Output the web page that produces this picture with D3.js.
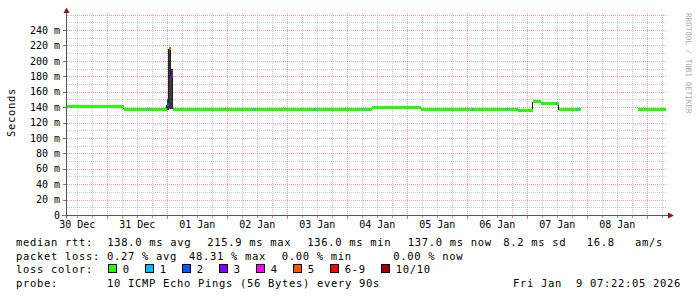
<!DOCTYPE html>
<html>
<head>
<meta charset="utf-8">
<script src="https://cdn.jsdelivr.net/npm/d3@7"></script>
<style>
  body { margin: 0; background: #fff; }
  text { font-family: "DejaVu Sans Mono", monospace; }
</style>
</head>
<body>
<script>
// graph window (10 days)
var startTime = "2025-12-30T07:52Z",
    endTime = "2026-01-09T07:52Z";

// median rtt (ms) step samples, null = no data
var sampleTimes = [
  "2025-12-30T07:52Z", "2025-12-31T06:28Z", "2025-12-31T16:04Z", "2025-12-31T16:28Z",
  "2025-12-31T23:40Z", "2026-01-01T00:28Z", "2026-01-01T01:16Z", "2026-01-01T02:04Z",
  "2026-01-02T10:28Z", "2026-01-02T10:52Z", "2026-01-03T10:28Z", "2026-01-03T10:52Z",
  "2026-01-04T06:28Z", "2026-01-04T06:52Z", "2026-01-04T09:52Z", "2026-01-05T05:16Z",
  "2026-01-06T01:40Z", "2026-01-06T02:04Z", "2026-01-06T15:40Z", "2026-01-06T16:04Z",
  "2026-01-06T20:04Z", "2026-01-06T20:28Z", "2026-01-07T02:16Z", "2026-01-07T05:28Z",
  "2026-01-07T11:16Z", "2026-01-07T11:52Z", "2026-01-07T12:40Z", "2026-01-07T19:40Z",
  "2026-01-07T20:16Z", "2026-01-07T21:28Z", "2026-01-08T20:16Z", "2026-01-09T07:28Z"
];
var medianMs = [
  141, 137, 137, 137,
  143, 216, 180, 137,
  137, 137, 137, 137,
  136.5, 136.5, 139, 137,
  137, 137, 136.5, 136.5,
  136, 136, 147, 145,
  145, 145, 136.5, 137.5,
  136.5, null, 137, null
];
var lossCount = [
  0, 0, 1, 0,
  2, 5, 3, 0,
  1, 0, 1, 0,
  1, 0, 0, 0,
  1, 0, 1, 0,
  1, 0, 0, 0,
  1, 0, 0, 1,
  0, 0, 0, 0
];
// smoke (min / max of pings), only visible around the spike
var smokeLo = [null, null, null, null, 136, 137, 137, null];
var smokeHi = [null, null, null, null, 150, 216, 190, null];

var yTickValues = [0, 20, 40, 60, 80, 100, 120, 140, 160, 180, 200, 220, 240];
var dayLabels = ["30 Dec", "31 Dec", "01 Jan", "02 Jan", "03 Jan", "04 Jan", "05 Jan", "06 Jan", "07 Jan", "08 Jan"];

var lossNames = ["0", "1", "2", "3", "4", "5", "6-9", "10/10"];
var lossColors = ["#26ff00", "#00b8ff", "#0059ff", "#7e00ff", "#ff00ff", "#ff5500", "#ff0000", "#a10000"];

var statRtt = ["138.0 ms avg", "215.9 ms max", "136.0 ms min", "137.0 ms now", "8.2 ms sd", "16.8", "am/s"];
var statLoss = ["0.27 % avg", "48.31 % max", "0.00 % min", "0.00 % now"];
var probeText = "10 ICMP Echo Pings (56 Bytes) every 90s";
var stampText = "Fri Jan  9 07:22:05 2026";

function lossColor(n) {
  if (n >= 10) return lossColors[7];
  if (n >= 6) return lossColors[6];
  return lossColors[n];
}

var W = 697, H = 297;
var svg = d3.select("body").append("svg")
    .attr("width", W).attr("height", H);

var x = d3.scaleUtc()
    .domain([d3.isoParse(startTime), d3.isoParse(endTime)])
    .range([67, 667]);
var y = d3.scaleLinear().domain([0, 240]).range([215, 30]);
var topY = 13, topVal = y.invert(topY);

var majorCol = "rgba(225,70,70,0.5)",
    minorCol = "rgba(140,140,140,0.45)";

// grid
var grid = svg.append("g");
d3.range(10, topVal, 10).forEach(function(v) {
  var yy = Math.round(y(v)) + 0.5;
  grid.append("line")
      .attr("x1", 67).attr("x2", 667).attr("y1", yy).attr("y2", yy)
      .attr("stroke", v % 20 === 0 ? majorCol : minorCol)
      .attr("stroke-dasharray", "1,1");
});
d3.utcHour.every(6).range(x.domain()[0], x.domain()[1]).forEach(function(t) {
  var xx = Math.round(x(t)) + 0.5;
  var major = t.getUTCHours() === 0;
  grid.append("line")
      .attr("x1", xx).attr("x2", xx).attr("y1", topY).attr("y2", 215)
      .attr("stroke", major ? majorCol : minorCol)
      .attr("stroke-dasharray", "1,1");
  svg.append("line")
      .attr("x1", xx).attr("x2", xx).attr("y1", 215).attr("y2", major ? 219 : 218)
      .attr("stroke", major ? "rgba(200,60,60,0.7)" : "#999");
});

// data
var pts = sampleTimes.map(function(s, i) {
  return { t: d3.isoParse(s), m: medianMs[i], loss: lossCount[i], lo: smokeLo[i], hi: smokeHi[i] };
});

var marks = svg.append("g").attr("shape-rendering", "crispEdges");
pts.forEach(function(d, i) {
  var next = pts[i + 1];
  if (!next || d.lo == null) return;
  marks.append("rect")
      .attr("x", x(d.t)).attr("width", Math.max(1, x(next.t) - x(d.t)))
      .attr("y", y(d.hi)).attr("height", y(d.lo) - y(d.hi))
      .attr("fill", "#3a3a3a");
});
// black connectors at each step
pts.forEach(function(d, i) {
  var next = pts[i + 1];
  if (!next || d.m == null || next.m == null) return;
  var xx = Math.round(x(next.t)) - 0.5;
  marks.append("line")
      .attr("x1", xx).attr("x2", xx)
      .attr("y1", y(d.m)).attr("y2", y(next.m))
      .attr("stroke", "#202020");
});
pts.forEach(function(d, i) {
  var next = pts[i + 1];
  if (!next || d.m == null) return;
  marks.append("rect")
      .attr("x", x(d.t)).attr("width", Math.max(1, x(next.t) - x(d.t)))
      .attr("y", y(d.m) - 1.5).attr("height", 3)
      .attr("fill", lossColor(d.loss));
});

// axes
svg.append("line").attr("x1", 66.5).attr("x2", 66.5).attr("y1", 12).attr("y2", 218)
    .attr("stroke", "#555");
svg.append("line").attr("x1", 62).attr("x2", 669).attr("y1", 215.5).attr("y2", 215.5)
    .attr("stroke", "#555");
svg.append("path").attr("d", "M63.5,13 L66.5,7.5 L69.5,13 Z").attr("fill", "#8b1a1a");
svg.append("path").attr("d", "M668,212.5 L674,215.5 L668,218.5 Z").attr("fill", "#8b1a1a");

yTickValues.forEach(function(v) {
  var yy = Math.round(y(v)) + 0.5;
  svg.append("line").attr("x1", 63).attr("x2", 66).attr("y1", yy).attr("y2", yy).attr("stroke", "#777");
  svg.append("text")
      .attr("x", 60).attr("y", y(v) + 3.7)
      .attr("text-anchor", "end").attr("font-size", 10).attr("fill", "#000")
      .style("white-space", "pre")
      .text(v === 0 ? "0" : v + " m");
});

// day labels sit at noon of each day
var noons = d3.utcDay.range(d3.utcDay.floor(x.domain()[0]), x.domain()[1]).map(function(d) {
  return d3.utcHour.offset(d, 12);
}).filter(function(d) { return d > x.domain()[0] && d < x.domain()[1]; });
noons.forEach(function(d, i) {
  svg.append("text")
      .attr("x", x(d)).attr("y", 227.5)
      .attr("text-anchor", "middle").attr("font-size", 10).attr("fill", "#000")
      .text(dayLabels[i]);
});

svg.append("text")
    .attr("transform", "translate(14.5,112.5) rotate(-90)")
    .attr("text-anchor", "middle").attr("font-size", 10.5)
    .attr("letter-spacing", 0.68).attr("fill", "#000")
    .text("Seconds");

svg.append("text")
    .attr("transform", "translate(685.5,13) rotate(90)")
    .attr("font-size", 7.6).attr("fill", "#aaa")
    .text("RRDTOOL / TOBI OETIKER");

// legend
function legendText(xp, yp, s) {
  svg.append("text")
      .attr("x", xp).attr("y", yp)
      .attr("font-size", 10.5).attr("letter-spacing", 0.68).attr("fill", "#000")
      .style("white-space", "pre")
      .text(s);
}
var row = [246, 259.5, 273, 286.5];
legendText(16, row[0], "median rtt:");
[107.3, 207.3, 307.3, 407.7, 503.3, 586.7, 635].forEach(function(xp, i) {
  legendText(xp, row[0], statRtt[i]);
});
legendText(16, row[1], "packet loss:");
[107, 189, 281.7, 393.3].forEach(function(xp, i) {
  legendText(xp, row[1], statLoss[i]);
});
legendText(16, row[2], "loss color:");
var boxX = [108.5, 145.5, 182.5, 219.5, 256.5, 293.5, 330.5, 381.5];
lossNames.forEach(function(name, i) {
  var bx = boxX[i];
  svg.append("rect")
      .attr("x", bx).attr("y", 264.5).attr("width", 8).attr("height", 8)
      .attr("fill", lossColors[i]).attr("stroke", "#000").attr("stroke-width", 1);
  legendText(bx + 14.3, row[2], name);
});
legendText(16, row[3], "probe:");
legendText(107, row[3], probeText);
legendText(513, row[3], stampText);
</script>
</body>
</html>
